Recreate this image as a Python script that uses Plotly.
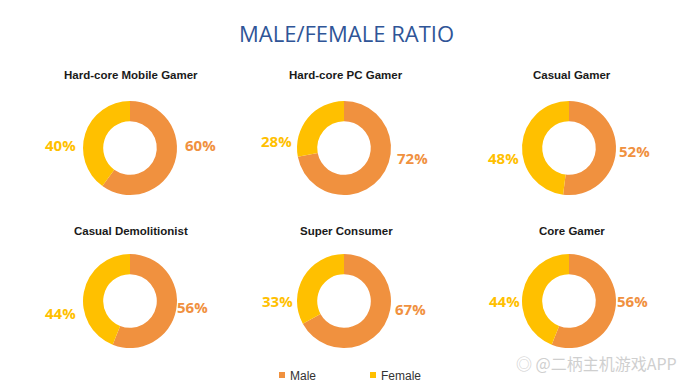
import plotly.graph_objects as go

W, H = 690, 386

groups = ["Hard-core Mobile Gamer", "Hard-core PC Gamer", "Casual Gamer",
          "Casual Demolitionist", "Super Consumer", "Core Gamer"]
male = [60, 72, 52, 56, 67, 56]
female = [40, 28, 48, 44, 33, 44]
series_names = ["Male", "Female"]

MALE_C = "#F0913F"
FEMALE_C = "#FFC000"
COLORS = [MALE_C, FEMALE_C]

# layout (pixel) positions
cx = [130, 344, 569]
cy = [148, 301]
R = 47
title_y = [75, 231]
title_x = [131, 346, 572]
female_lbl = [(60, 145), (276, 141), (503, 158), (60, 313), (277, 301), (504, 301)]
male_lbl = [(200, 145), (412, 158), (634, 151), (192, 307), (410, 309), (632, 301)]
legend_x = [282, 373]
legend_y = 375

def px(x):
    return x / W

def py(y):
    return 1 - y / H

def A(x, y, text, font, **kw):
    d = dict(x=px(x), y=py(y), xref="paper", yref="paper", text=text,
             showarrow=False, xanchor="center", yanchor="middle", font=font)
    d.update(kw)
    return d

fig = go.Figure()
ann = []
shapes = []
for i, g in enumerate(groups):
    r, c = divmod(i, 3)
    x0, y0 = cx[c], cy[r]
    fig.add_trace(go.Pie(
        labels=series_names,
        values=[male[i], female[i]],
        marker=dict(colors=COLORS, line=dict(width=0)),
        hole=0.57, sort=False, direction="clockwise", rotation=0,
        textinfo="none", hoverinfo="label+percent",
        domain=dict(x=[px(x0 - R), px(x0 + R)], y=[py(y0 + R), py(y0 - R)]),
        showlegend=False, name=g,
    ))
    ann.append(A(title_x[c], title_y[r], f"<b>{g}</b>",
                 dict(family="Liberation Sans, Arial", size=11.5, color="#1a1a1a")))
    fx, fy = female_lbl[i]
    mx, my = male_lbl[i]
    ann.append(A(fx, fy, f"<b>{female[i]}%</b>",
                 dict(family="Open Sans, Liberation Sans", size=15, color=FEMALE_C)))
    ann.append(A(mx, my, f"<b>{male[i]}%</b>",
                 dict(family="Open Sans, Liberation Sans", size=15, color=MALE_C)))

ann.append(A(346, 33, "MALE/FEMALE RATIO",
             dict(family="Open Sans, Lato", size=22, color="#2F5597")))
ann.append(A(596, 363, "◎ @二柄主机游戏APP",
             dict(family="Noto Sans CJK SC", size=16, color="#cfcfcf")))

# custom legend
for name, col, lx in zip(series_names, COLORS, legend_x):
    shapes.append(dict(type="rect", xref="paper", yref="paper",
                       x0=px(lx - 3), x1=px(lx + 3), y0=py(legend_y + 3), y1=py(legend_y - 3),
                       fillcolor=col, line=dict(width=0)))
    ann.append(A(lx + 6, legend_y + 1, name,
                 dict(family="Liberation Sans, Arial", size=12, color="#333"), xanchor="left"))

fig.update_layout(
    width=W, height=H,
    margin=dict(l=0, r=0, t=0, b=0),
    paper_bgcolor="white", plot_bgcolor="white",
    annotations=ann, shapes=shapes,
    showlegend=False,
)

fig.write_html("out.html", config={"displayModeBar": False},
               post_script="document.body.style.margin='0';")
